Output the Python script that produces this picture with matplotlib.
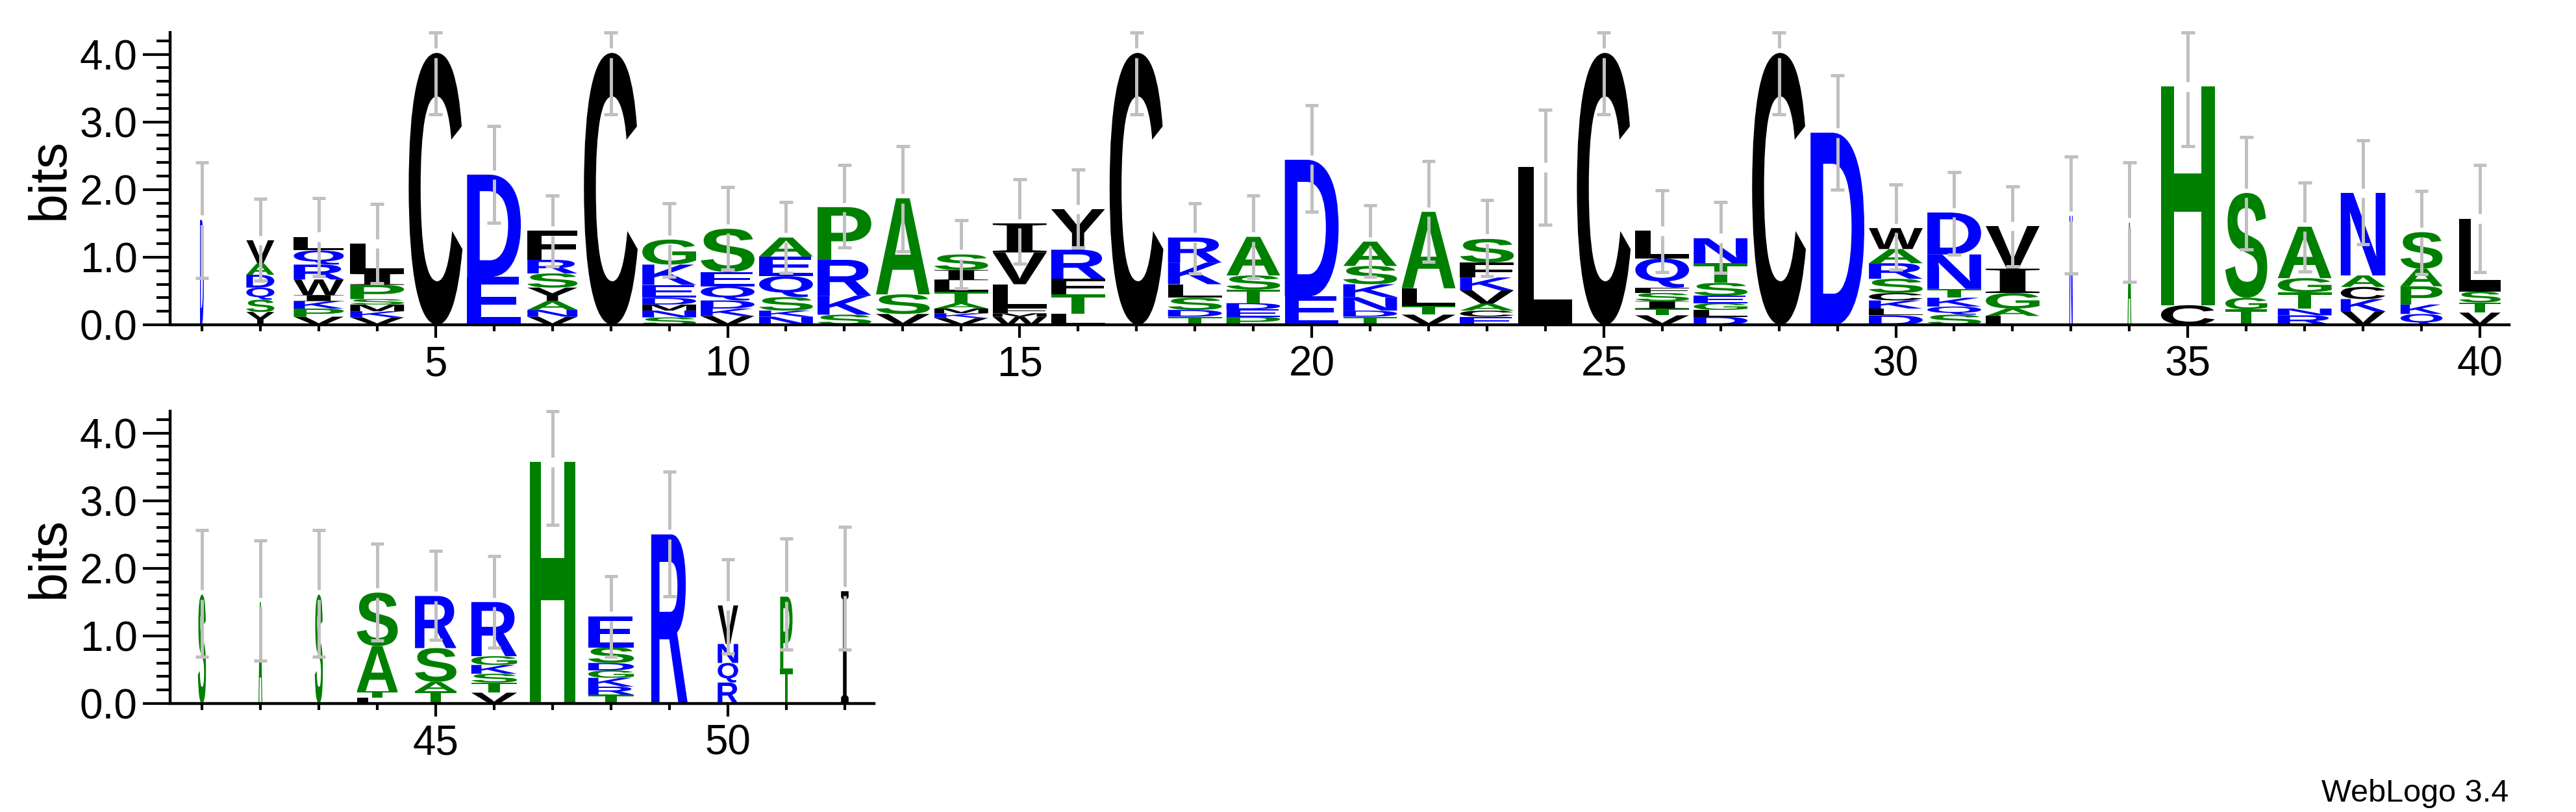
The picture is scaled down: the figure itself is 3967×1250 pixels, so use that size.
import matplotlib
matplotlib.use("Agg")
import matplotlib.pyplot as plt
from matplotlib.textpath import TextPath
from matplotlib.font_manager import FontProperties
from matplotlib.patches import PathPatch
from matplotlib.transforms import Affine2D
from matplotlib.ticker import MultipleLocator

# sequence logo data, one entry per position (1..52), letters bottom -> top
stacks = [
    "D", "YSQDAV", "VPKIWRQL", "VKMSPIL", "C", "ED", "VNAYSRF", "C",
    "SNMDEKG", "VKDQES", "NKSQEA", "SKRP", "VSA", "VKMATLIS", "WMFLVI", "LTFRY",
    "C", "TDSLKR", "PEDTSA", "ED", "TDNKSA", "VTLA", "ECAVKFS", "L",
    "C", "VTISFQL", "DLGESTN", "C", "D", "DLKCSRAW", "SQKTND", "LAGIV",
    "N", "A", "CH", "TGS", "RNTGA", "VKCAN", "QKPAS", "VTSL",
    "S", "A", "S", "LTAS", "TASR", "VTSKGR", "H", "TRKGDSE",
    "R", "RQNV", "TP", "I",
]
heights = [
    [1.55], [0.19, 0.18, 0.18, 0.19, 0.17, 0.34],
    [0.12, 0.12, 0.11, 0.09, 0.23, 0.22, 0.21, 0.20],
    [0.11, 0.09, 0.10, 0.08, 0.21, 0.17, 0.44], [4.02], [0.71, 1.51],
    [0.12, 0.10, 0.13, 0.20, 0.21, 0.20, 0.43], [4.02],
    [0.11, 0.10, 0.09, 0.10, 0.19, 0.30, 0.37],
    [0.13, 0.11, 0.12, 0.21, 0.21, 0.64],
    [0.12, 0.09, 0.20, 0.31, 0.29, 0.28],
    [0.15, 0.28, 0.53, 0.78], [0.16, 0.29, 1.42],
    [0.10, 0.07, 0.07, 0.08, 0.17, 0.17, 0.15, 0.23],
    [0.12, 0.05, 0.08, 0.35, 0.47, 0.43],
    [0.16, 0.29, 0.23, 0.43, 0.60], [4.02],
    [0.12, 0.10, 0.18, 0.20, 0.32, 0.37],
    [0.12, 0.11, 0.09, 0.20, 0.21, 0.57], [0.42, 2.02],
    [0.12, 0.09, 0.20, 0.19, 0.27, 0.36], [0.15, 0.13, 0.26, 1.13],
    [0.12, 0.09, 0.10, 0.20, 0.19, 0.22, 0.35], [2.33], [4.02],
    [0.14, 0.10, 0.11, 0.12, 0.08, 0.43, 0.41],
    [0.12, 0.10, 0.10, 0.11, 0.19, 0.29, 0.37], [4.02], [2.84],
    [0.14, 0.10, 0.12, 0.11, 0.21, 0.23, 0.21, 0.31],
    [0.15, 0.12, 0.13, 0.13, 0.51, 0.62], [0.13, 0.11, 0.23, 0.36, 0.63],
    [1.61], [1.51], [0.29, 3.23], [0.23, 0.17, 1.55],
    [0.14, 0.10, 0.24, 0.21, 0.76], [0.20, 0.18, 0.18, 0.17, 1.22],
    [0.16, 0.14, 0.27, 0.26, 0.54], [0.18, 0.15, 0.16, 1.08],
    [1.61], [1.50], [1.61], [0.09, 0.09, 0.67, 0.79], [0.18, 0.14, 0.50, 0.77],
    [0.16, 0.15, 0.13, 0.13, 0.13, 0.80], [3.57],
    [0.13, 0.12, 0.13, 0.11, 0.11, 0.23, 0.46], [2.50],
    [0.31, 0.29, 0.28, 0.57], [0.52, 1.06], [1.66],
]
# fraction of full column width (gappy columns are narrow)
col_width = [
    0.07, 0.52, 0.93, 1.0, 1.0, 1.0, 0.93, 1.0, 1.0, 1.0,
    1.0, 1.0, 1.0, 1.0, 1.0, 1.0, 1.0, 1.0, 1.0, 1.0,
    1.0, 1.0, 1.0, 1.0, 1.0, 1.0, 1.0, 1.0, 1.0, 1.0,
    1.0, 1.0, 0.06, 0.07, 1.0, 0.78, 1.0, 0.83, 0.78, 0.77,
    0.15, 0.07, 0.15, 0.76, 0.77, 0.85, 0.85, 0.85, 0.68, 0.38,
    0.23, 0.14,
]
err_lo = [
    0.69, 0.65, 0.72, 0.61, 3.11, 1.51, 0.86, 3.11, 0.71, 0.82,
    0.77, 1.14, 1.09, 0.54, 0.90, 1.14, 3.11, 0.76, 0.69, 1.67,
    0.71, 0.93, 0.72, 1.48, 3.11, 0.78, 0.77, 3.11, 2.00, 0.82,
    1.04, 0.86, 0.76, 0.63, 2.64, 1.11, 0.79, 1.19, 0.75, 0.78,
    0.69, 0.63, 0.69, 0.93, 0.94, 0.83, 2.64, 0.69, 1.58, 0.74,
    0.80, 0.80,
]
err_hi = [
    2.40, 1.86, 1.87, 1.79, 4.32, 2.94, 1.91, 4.32, 1.80, 2.04,
    1.82, 2.36, 2.64, 1.55, 2.15, 2.30, 4.32, 1.80, 1.91, 3.25,
    1.77, 2.42, 1.84, 3.18, 4.32, 1.99, 1.82, 4.32, 3.69, 2.07,
    2.26, 2.05, 2.49, 2.40, 4.32, 2.78, 2.10, 2.73, 1.98, 2.36,
    2.56, 2.41, 2.56, 2.36, 2.26, 2.18, 4.32, 1.88, 3.43, 2.13,
    2.44, 2.61,
]

colors = {}
for group, c in [("RKDENQ", "#0000ff"), ("SGHTAP", "#008000"), ("YVMCLFIW", "#000000")]:
    for ch in group:
        colors[ch] = c

sans_bold = FontProperties(family="Liberation Sans", weight="bold")
serif_bold = FontProperties(family="Liberation Serif", weight="bold")
plt.rcParams["font.family"] = ["Liberation Sans", "DejaVu Sans"]

W, H = 3967, 1250
fig = plt.figure(figsize=(W / 100, H / 100), dpi=100)
ymax = 4.3219

ax_top = fig.add_axes([266 / W, 1 - 500 / H, 3598 / W, 450 / H])
ax_bot = fig.add_axes([266 / W, 1 - 1083 / H, 1080 / W, 450 / H])


def draw_letter(ax, ch, x, y0, w, h):
    prop = serif_bold if ch == "I" else sans_bold
    tp = TextPath((0, 0), ch, size=1, prop=prop)
    bb = tp.get_extents()
    tr = Affine2D().translate(-bb.x0, -bb.y0).scale(w / bb.width, h / bb.height).translate(x - w / 2, y0)
    ax.add_patch(PathPatch(tr.transform_path(tp), fc=colors[ch], ec="none", lw=0, zorder=2))


def draw_positions(ax, first, last):
    for pos in range(first, last + 1):
        i = pos - 1
        w = 0.92 * col_width[i]
        y = 0.0
        for ch, h in zip(stacks[i], heights[i]):
            draw_letter(ax, ch, pos, y, w, h)
            y += h
        top = y
        gap = 0.07
        kw = dict(color="#c0c0c0", lw=3.6, zorder=3, clip_on=False, solid_capstyle="butt")
        ax.plot([pos, pos], [top + gap, err_hi[i]], **kw)
        ax.plot([pos, pos], [err_lo[i], top - gap], **kw)
        ax.plot([pos - 0.115, pos + 0.115], [err_hi[i], err_hi[i]], **kw)
        ax.plot([pos - 0.115, pos + 0.115], [err_lo[i], err_lo[i]], **kw)


draw_positions(ax_top, 1, 40)
draw_positions(ax_bot, 41, 52)

for ax, (x0, x1), labels in [(ax_top, (0.5, 40.5), range(5, 41, 5)), (ax_bot, (40.5, 52.5), [45, 50])]:
    ax.set_xlim(x0, x1)
    ax.set_ylim(0, ymax)
    ax.spines["top"].set_visible(False)
    ax.spines["right"].set_visible(False)
    ax.spines["left"].set_position(("outward", 3))
    ax.spines["left"].set_linewidth(3.2)
    ax.spines["bottom"].set_linewidth(3.2)
    ax.set_xticks(list(labels))
    ax.set_xticks(range(int(x0 + 0.5), int(x1 + 0.5)), minor=True)
    ax.yaxis.set_major_locator(MultipleLocator(1.0))
    ax.yaxis.set_minor_locator(MultipleLocator(0.2))
    ax.set_yticklabels([f"{v:.1f}" for v in ax.get_yticks()])
    ax.tick_params(axis="y", which="major", length=30, width=3, labelsize=46, pad=6)
    ax.tick_params(axis="y", which="minor", length=15, width=3)
    ax.tick_params(axis="x", which="major", length=14.5, width=3, labelsize=46, pad=8)
    ax.tick_params(axis="x", which="minor", length=7, width=3)
    ax.patch.set_alpha(0)

fig.text(77 / W, 1 - 275 / H, "bits", rotation=90, ha="center", va="center", fontsize=58)
fig.text(77 / W, 1 - 858 / H, "bits", rotation=90, ha="center", va="center", fontsize=58)
fig.text(3863 / W, 1 - 1234 / H, "WebLogo 3.4", ha="right", va="baseline", fontsize=35)

fig.savefig("out.png", dpi=100, facecolor="white")
